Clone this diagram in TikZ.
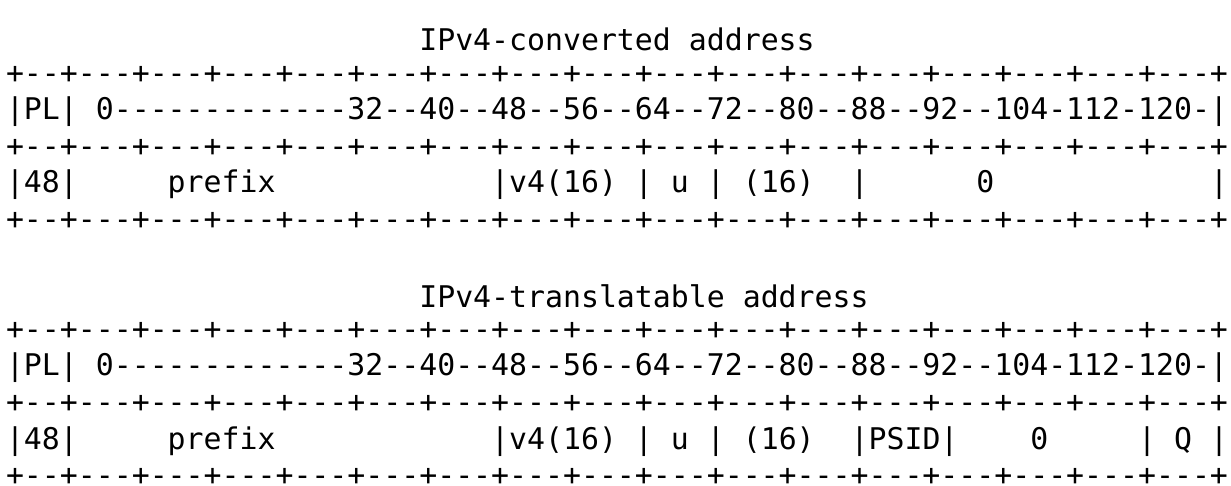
\documentclass[tikz,border=0pt]{standalone}
\usepackage{fontspec}
\setmonofont{DejaVu Sans Mono}
\begin{document}
\begin{tikzpicture}[x=0.33333pt,y=-0.33333pt,
  asc/.style={anchor=base west,inner sep=0pt,outer sep=0pt,font=\ttfamily\fontsize{9.95pt}{12pt}\selectfont,text=black}]
\useasboundingbox (0,0) rectangle (1231,486);
\def\lx{6}
\def\pitch{36.6}
\def\base{46.5}
% first diagram
\node[asc] (t1) at (\lx+23*17.97,51) {IPv4-converted~address};
\node[asc] (a1) at (\lx,\base+1*\pitch) {+--+---+---+---+---+---+---+---+---+---+---+---+---+---+---+---+---+};
\node[asc] (a2) at (\lx,\base+2*\pitch) {|PL|~0-------------32--40--48--56--64--72--80--88--92--104-112-120-|};
\node[asc] (a3) at (\lx,\base+3*\pitch) {+--+---+---+---+---+---+---+---+---+---+---+---+---+---+---+---+---+};
\node[asc] (a4) at (\lx,\base+4*\pitch) {|48|~~~~~prefix~~~~~~~~~~~~|v4(16)~|~u~|~(16)~~|~~~~~~0~~~~~~~~~~~~|};
\node[asc] (a5) at (\lx,\base+5*\pitch) {+--+---+---+---+---+---+---+---+---+---+---+---+---+---+---+---+---+};
% second diagram
\node[asc] (t2) at (\lx+23*17.97,51+7*\pitch) {IPv4-translatable~address};
\node[asc] (b1) at (\lx,\base+8*\pitch) {+--+---+---+---+---+---+---+---+---+---+---+---+---+---+---+---+---+};
\node[asc] (b2) at (\lx,\base+9*\pitch) {|PL|~0-------------32--40--48--56--64--72--80--88--92--104-112-120-|};
\node[asc] (b3) at (\lx,\base+10*\pitch) {+--+---+---+---+---+---+---+---+---+---+---+---+---+---+---+---+---+};
\node[asc] (b4) at (\lx,\base+11*\pitch) {|48|~~~~~prefix~~~~~~~~~~~~|v4(16)~|~u~|~(16)~~|PSID|~~~~0~~~~~|~Q~|};
\node[asc] (b5) at (\lx,\base+12*\pitch) {+--+---+---+---+---+---+---+---+---+---+---+---+---+---+---+---+---+};
\end{tikzpicture}
\end{document}
